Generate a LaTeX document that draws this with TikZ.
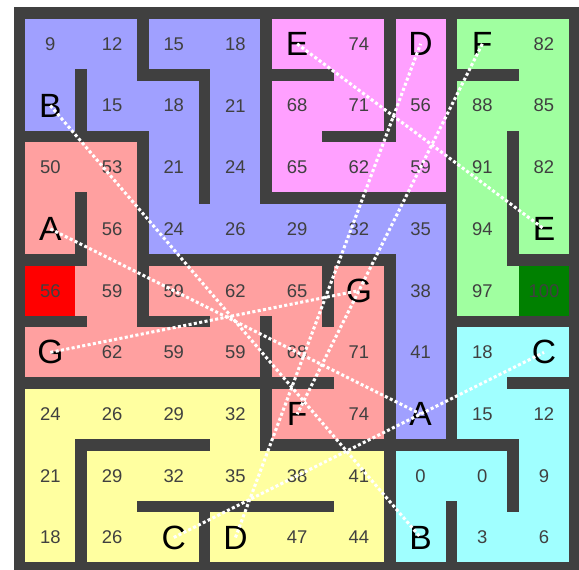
\documentclass[tikz,border=0pt]{standalone}
\usepackage{fontspec}
\setmainfont{Liberation Sans}
\definecolor{WallGray}{RGB}{64,64,64}
\definecolor{NumGray}{RGB}{64,64,64}
\definecolor{ZoneBlue}{RGB}{160,160,255}
\definecolor{ZoneSalmon}{RGB}{255,160,160}
\definecolor{ZonePink}{RGB}{255,160,255}
\definecolor{ZoneGreen}{RGB}{160,255,160}
\definecolor{ZoneYellow}{RGB}{255,255,160}
\definecolor{ZoneCyan}{RGB}{160,255,255}
\definecolor{StartRed}{RGB}{255,0,0}
\definecolor{GoalGreen}{RGB}{0,128,0}
\usepackage{tikz}
\usetikzlibrary{positioning}

\begin{document}
\begin{tikzpicture}[x=1cm, y=-1cm,
    wall/.style={draw=WallGray, line width=0.19cm, line cap=rect},
    cellnum/.style={font=\fontsize{8.5}{10}\selectfont, text=NumGray, inner sep=0pt},
    cellletter/.style={font=\fontsize{15.5}{18}\selectfont, text=black, inner sep=0pt},
    tunnel/.style={draw=white, line width=1.4pt, dash pattern=on 1.4pt off 1.1pt},
    zoneB/.style={fill=ZoneBlue}, zoneS/.style={fill=ZoneSalmon},
    zoneP/.style={fill=ZonePink}, zoneG/.style={fill=ZoneGreen},
    zoneY/.style={fill=ZoneYellow}, zoneC/.style={fill=ZoneCyan}]
  \useasboundingbox (-0.316,-0.211) rectangle (9.068,9.011);

  % zones
  \foreach \r/\zones in {0/{B,B,B,B,P,P,P,G,G}, 1/{B,B,B,B,P,P,P,G,G},
      2/{S,S,B,B,P,P,P,G,G}, 3/{S,S,B,B,B,B,B,G,G}, 4/{S,S,S,S,S,S,B,G,G},
      5/{S,S,S,S,S,S,B,C,C}, 6/{Y,Y,Y,Y,S,S,B,C,C}, 7/{Y,Y,Y,Y,Y,Y,C,C,C},
      8/{Y,Y,Y,Y,Y,Y,C,C,C}}
    \foreach \z [count=\c from 0] in \zones
      \fill[zone\z] (\c,\r) rectangle ++(1,1);
  \fill[StartRed] (0.095,4.095) rectangle (0.905,4.905);
  \fill[GoalGreen] (8.095,4.095) rectangle (8.905,4.905);

  % walls
  \draw[wall] (0,0) rectangle (9,9);
  \draw[wall] (2,0) -- (2,1) -- (3,1) -- (3,3);
  \draw[wall] (1,1) -- (1,2);
  \draw[wall] (0,2) -- (2,2) -- (2,5) -- (3,5);
  \draw[wall] (4,0) -- (4,3) -- (7,3);
  \draw[wall] (4,1) -- (5,1);
  \draw[wall] (6,0) -- (6,2) -- (5,2);
  \draw[wall] (7,0) -- (7,7);
  \draw[wall] (7,1) -- (8,1);
  \draw[wall] (8,2) -- (8,4) -- (9,4);
  \draw[wall] (7,5) -- (9,5);
  \draw[wall] (8,6) -- (9,6);
  \draw[wall] (1,3) -- (1,4) -- (0,4);
  \draw[wall] (0,5) -- (1,5);
  \draw[wall] (2,4) -- (6,4) -- (6,9);
  \draw[wall] (5,4) -- (5,5);
  \draw[wall] (0,6) -- (5,6);
  \draw[wall] (4,5) -- (4,7) -- (8,7) -- (8,8);
  \draw[wall] (1,9) -- (1,7) -- (3,7);
  \draw[wall] (2,8) -- (5,8);
  \draw[wall] (3,8) -- (3,9);
  \draw[wall] (7,8) -- (7,9);

  % numbers
  \foreach \r/\vals in {0/{9,12,15,18,,74,,,82}, 1/{,15,18,21,68,71,56,88,85},
      2/{50,53,21,24,65,62,59,91,82}, 3/{,56,24,26,29,32,35,94,},
      4/{56,59,59,62,65,,38,97,100}, 5/{,62,59,59,68,71,41,18,},
      6/{24,26,29,32,,74,,15,12}, 7/{21,29,32,35,38,41,0,0,9},
      8/{18,26,,,47,44,,3,6}}
    \foreach \v [count=\c from 0] in \vals {
      \ifx\v\empty\else
        \node[cellnum] (n\r\c) at (\c+0.5,\r+0.5) {\v};
      \fi
    }

  % letters and tunnels
  \foreach \p/\ca/\ra/\cb/\rb in {A/0/3/6/6, B/0/1/6/8, C/2/8/8/5, D/3/8/6/0,
      E/4/0/8/3, F/7/0/4/6, G/0/5/5/4} {
    \node[cellletter] (\p1) at (\ca+0.5,\ra+0.5) {\p};
    \node[cellletter] (\p2) at (\cb+0.5,\rb+0.5) {\p};
  }
  \foreach \p in {A,...,G}
    \draw[tunnel] (\p1.center) -- (\p2.center);
\end{tikzpicture}
\end{document}
